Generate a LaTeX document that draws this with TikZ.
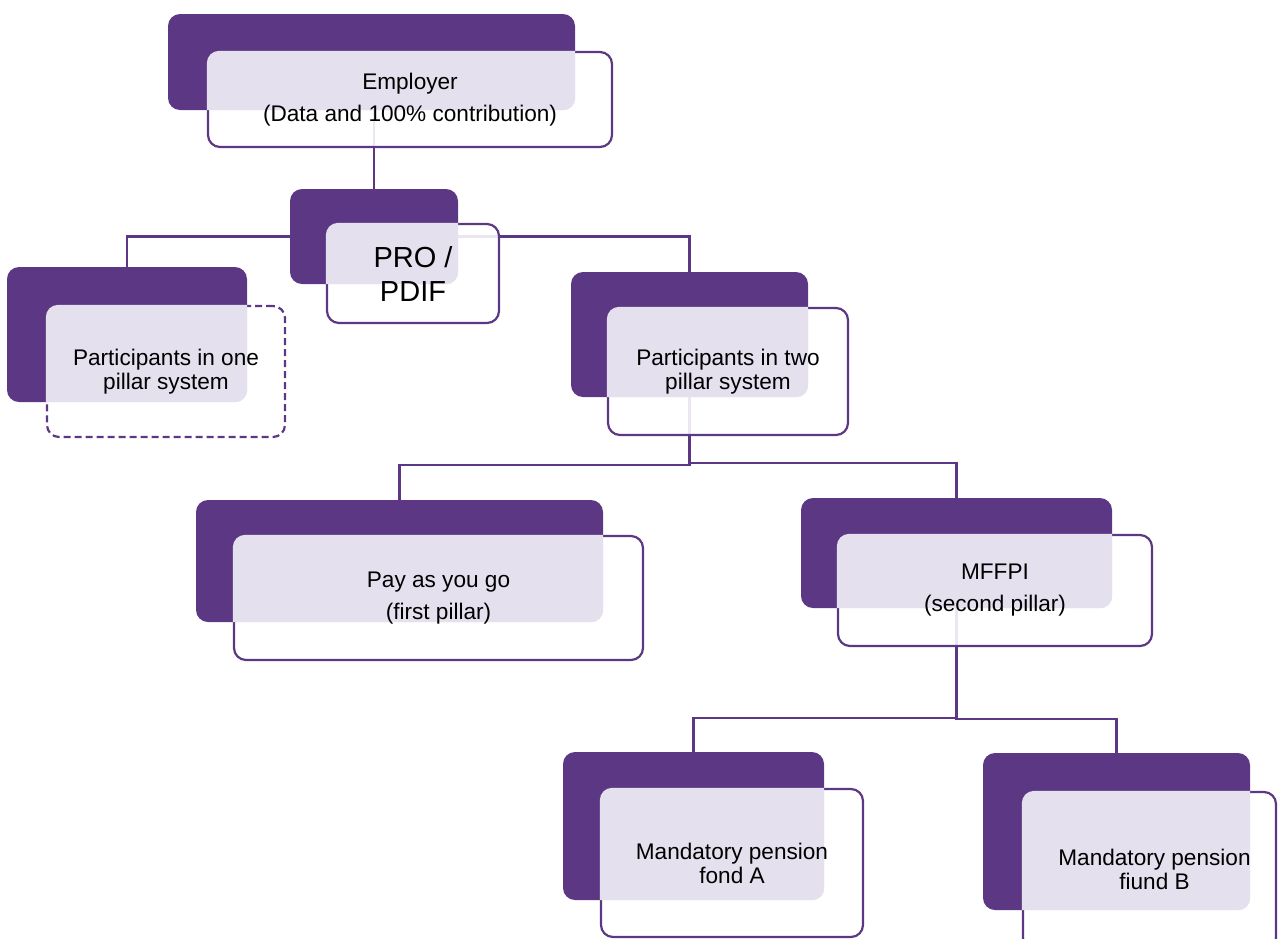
\documentclass[tikz,border=0pt]{standalone}
\usepackage{fontspec}
\setmainfont{Liberation Sans}
\usetikzlibrary{calc}
\pgfdeclarelayer{bg}
\pgfsetlayers{bg,main}
\definecolor{darkp}{RGB}{92,56,132}
\definecolor{lav}{RGB}{228,224,238}
\tikzset{
  back/.style={draw=none, fill=darkp, rounded corners=12pt, inner sep=0pt},
  front/.style={draw=darkp, line width=2.2pt, fill=white, fill opacity=0.88, rounded corners=12pt, inner sep=0pt},
  frontdash/.style={front, dash pattern=on 7pt off 4pt},
  lbl/.style={align=center, font=\fontsize{22.6}{24}\selectfont, inner sep=0pt, text=black},
  biglbl/.style={align=center, font=\fontsize{29}{34}\selectfont, inner sep=0pt, text=black},
  conn/.style={draw=darkp, line width=2.3pt},
}
\newcommand\lavover[2]{%
  \begin{scope}
    \clip[rounded corners=12pt] (#1.south west) rectangle (#1.north east);
    \fill[lav, rounded corners=12pt] (#2.south west) rectangle (#2.north east);
  \end{scope}}
\begin{document}
\begin{tikzpicture}[x=1pt,y=-1pt]
\useasboundingbox (0,0) rectangle (1278,938);

% dark back boxes
\node[back, minimum width=407pt, minimum height=96pt]  (empd) at (371.5,62) {};
\node[back, minimum width=168pt, minimum height=95pt]  (prod) at (374,236.5) {};
\node[back, minimum width=240pt, minimum height=135pt] (oned) at (127,334.5) {};
\node[back, minimum width=237pt, minimum height=125pt] (twod) at (689.5,334.5) {};
\node[back, minimum width=407pt, minimum height=122pt] (payd) at (399.5,561) {};
\node[back, minimum width=311pt, minimum height=110pt] (mffd) at (956.5,553) {};
\node[back, minimum width=261pt, minimum height=148pt] (fad)  at (693.5,826) {};
\node[back, minimum width=267pt, minimum height=157pt] (fbd)  at (1116.5,831.5) {};

% front boxes
\node[front, minimum width=404pt, minimum height=95pt]  (empf) at (410,99.5) {};
\node[front, minimum width=172pt, minimum height=99pt]  (prof) at (413,273.5) {};
\node[frontdash, minimum width=238pt, minimum height=131pt] (onef) at (166,371.5) {};
\node[front, minimum width=240pt, minimum height=127pt] (twof) at (728,371.5) {};
\node[front, minimum width=409pt, minimum height=124pt] (payf) at (438.5,598) {};
\node[front, minimum width=314pt, minimum height=111pt] (mfff) at (995,590.5) {};
\node[front, minimum width=262pt, minimum height=148pt] (faf)  at (732,863) {};
\node[front, minimum width=253pt, minimum height=158pt] (fbf)  at (1149.5,871) {};

% light overlap regions
\lavover{empf}{empd}
\lavover{prof}{prod}
\lavover{onef}{oned}
\lavover{twof}{twod}
\lavover{payf}{payd}
\lavover{mfff}{mffd}
\lavover{faf}{fad}
\lavover{fbf}{fbd}

% connectors
\begin{pgfonlayer}{bg}
\draw[conn] (prod.north |- empd.south) -- (prod.north);
\draw[conn] (prod.west) -| (oned.north);
\draw[conn] (prod.east) -| (twod.north);
\draw[conn] (twod.south) |- ([yshift=35pt]payd.north) -- (payd.north);
\draw[conn] (twod.south) |- ([yshift=35pt]mffd.north) -- (mffd.north);
\draw[conn] (mffd.south) |- ([yshift=34pt]fad.north) -- (fad.north);
\draw[conn] (mffd.south) |- ([yshift=34pt]fbd.north) -- (fbd.north);
\end{pgfonlayer}

% labels
\node[lbl] (empt) at (empf.center) {Employer\\[8pt](Data and 100\% contribution)};
\node[biglbl] (prot) at (prof.center) {PRO /\\PDIF};
\node[lbl] (onet) at (onef.center) {Participants in one\\pillar system};
\node[lbl] (twot) at (twof.center) {Participants in two\\pillar system};
\node[lbl] (payt) at (payf.center) {Pay as you go\\[8pt](first pillar)};
\node[lbl] (mfft) at (mfff.center) {MFFPI\\[8pt](second pillar)};
\node[lbl] (fat)  at (faf.center) {Mandatory pension\\fond A};
\node[lbl] (fbt)  at ([xshift=5pt,yshift=2pt]fbf.center) {Mandatory pension\\fiund B};
\end{tikzpicture}
\end{document}
